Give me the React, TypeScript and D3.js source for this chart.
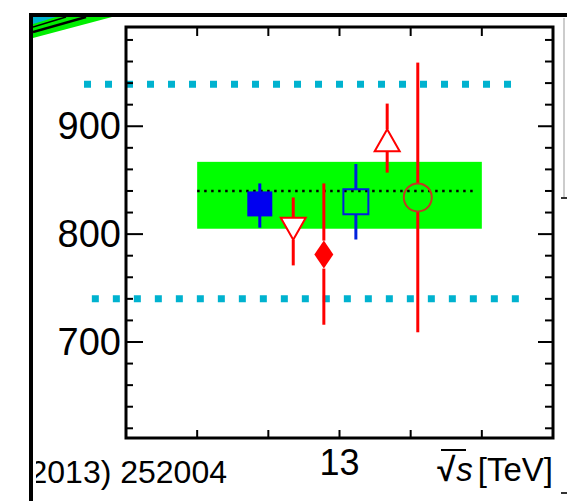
import React from 'react'
import * as d3 from 'd3'

// measurements, sqrt(s) positions are offset so the points do not overlap
const energies = [12.888, 12.935, 12.978, 13.023, 13.067, 13.110]
const values = [828, 805, 781, 830, 887, 834]
const errLow = [806, 771, 716, 795, 857, 709]
const errHigh = [847, 834, 847, 865, 921, 959]
const markers = ['fsquare', 'otridown', 'fdiamond', 'osquare', 'otriup', 'ocircle']
const colors = ['#0000f0', '#ff0000', '#ff0000', '#0022dd', '#ff0000', '#c03a22']
const barColors = ['#0000f0', '#ff0000', '#ff0000', '#0022dd', '#ff0000', '#ff0000']

// average and its uncertainty band
const average = [840]
const bandRange = [805, 867]
const bandX = [12.8, 13.2]

// dashed reference lines of the outer plot
const refValues = [939, 740]
const refFrom = [12.641, 12.652]
const refTo = [13.249, 13.263]

const yMajor = [700, 800, 900]
const xTicks = [12.8, 12.9, 13.0, 13.1, 13.2]
const xLabels = ['', '', '13', '', '']

const W = 567, H = 501
const font = '"Liberation Sans", Arial, Helvetica, sans-serif'

export default function App() {
  const x = d3.scaleLinear().domain([12.7, 13.3]).range([126, 553])
  const y = d3.scaleLinear().domain([611, 992]).range([438, 27])
  const yMinor = d3.range(620, 992, 20)

  // half-sizes of markers, used to break the error bars at the marker edge
  const markerHalf: Record<string, [number, number]> = {
    fsquare: [0, 0], otridown: [11, 11], fdiamond: [14, 14],
    osquare: [12.5, 12.5], otriup: [11, 11], ocircle: [14, 14]
  }

  function marker(kind: string, cx: number, cy: number, c: string) {
    if (kind === 'fsquare')
      return <rect x={cx - 12.5} y={cy - 12.5} width={25} height={25} fill={c} />
    if (kind === 'osquare')
      return <rect x={cx - 12.5} y={cy - 12.5} width={25} height={25} fill="none" stroke={c} strokeWidth={2} />
    if (kind === 'fdiamond')
      return <path d={`M${cx},${cy - 14}L${cx + 9.5},${cy}L${cx},${cy + 14}L${cx - 9.5},${cy}Z`} fill={c} />
    if (kind === 'otridown')
      return <path d={`M${cx - 12.5},${cy - 11}L${cx + 12.5},${cy - 11}L${cx},${cy + 11}Z`} fill="#fff" stroke={c} strokeWidth={2} />
    if (kind === 'otriup')
      return <path d={`M${cx - 12.5},${cy + 11}L${cx + 12.5},${cy + 11}L${cx},${cy - 11}Z`} fill="#fff" stroke={c} strokeWidth={2} />
    return <circle cx={cx} cy={cy} r={14} fill="none" stroke={c} strokeWidth={2} />
  }

  return (
    <svg width={W} height={H} style={{ position: 'absolute', left: 0, top: 0, background: '#fff' }}
      fontFamily={font}>
      <defs>
        <clipPath id="outer"><rect x={33} y={17} width={W} height={H} /></clipPath>
        <clipPath id="textclip"><rect x={36} y={17} width={W} height={H} /></clipPath>
      </defs>

      {/* corner of the outer plot's contour */}
      <g clipPath="url(#outer)">
        <path d="M33,17L112,17L33,38Z" fill="#00ee00" />
        <path d="M33,32L86,17" stroke="#000" strokeWidth={2.5} />
        <path d="M33,27L66,17" stroke="#000" strokeWidth={1.5} />
        <path d="M33,17L56,17L33,24Z" fill="#00b2cf" />
      </g>

      {/* average band */}
      <rect x={x(bandX[0])} y={y(bandRange[1])} width={x(bandX[1]) - x(bandX[0])}
        height={y(bandRange[0]) - y(bandRange[1])} fill="#00ff00" />
      <line x1={x(bandX[0])} x2={x(bandX[1]) - 5} y1={y(average[0])} y2={y(average[0])}
        stroke="#000" strokeWidth={2.5} strokeDasharray="2.5 4.5" />

      {/* reference lines */}
      {refValues.map((v, i) => (
        <line key={i} x1={x(refFrom[i])} x2={x(refTo[i])} y1={y(v)} y2={y(v)}
          stroke="#00b2cf" strokeWidth={7} strokeDasharray="7 14" />
      ))}

      {/* error bars and markers */}
      {energies.map((e, i) => {
        const cx = x(e), cy = y(values[i])
        const [ht, hb] = markerHalf[markers[i]]
        return (
          <g key={i}>
            <line x1={cx} x2={cx} y1={y(errHigh[i])} y2={cy - ht} stroke={barColors[i]} strokeWidth={3} />
            <line x1={cx} x2={cx} y1={cy + hb} y2={y(errLow[i])} stroke={barColors[i]} strokeWidth={3} />
            {marker(markers[i], cx, cy, colors[i])}
          </g>
        )
      })}

      {/* frame of the inner plot */}
      <rect x={126} y={27} width={427} height={411} fill="none" stroke="#000" strokeWidth={3} />
      {yMinor.map(v => {
        const major = yMajor.includes(v)
        return (
          <g key={v}>
            <line x1={126} x2={126 + (major ? 17 : 7)} y1={y(v)} y2={y(v)} stroke="#000" strokeWidth={2} />
            <line x1={553} x2={553 - (major ? 15 : 8)} y1={y(v)} y2={y(v)} stroke="#000" strokeWidth={2} />
          </g>
        )
      })}
      {yMajor.map(v => (
        <text key={v} x={121} y={y(v) + 13} textAnchor="end" fontSize={38}>{v}</text>
      ))}
      {xTicks.map((t, i) => (
        <g key={t}>
          <line x1={x(t)} x2={x(t)} y1={438} y2={430} stroke="#000" strokeWidth={2} />
          <line x1={x(t)} x2={x(t)} y1={27} y2={36} stroke="#000" strokeWidth={2} />
          {xLabels[i] && <text x={x(t)} y={475} textAnchor="middle" fontSize={36}>{xLabels[i]}</text>}
        </g>
      ))}

      {/* axis title */}
      <text x={553} y={481} textAnchor="end" fontSize={33}>
        <tspan fontWeight="bold">√</tspan><tspan fontStyle="italic" dx={1}>s</tspan><tspan dx={5}>[TeV]</tspan>
      </text>
      <line x1={441} x2={466} y1={450} y2={450} stroke="#000" strokeWidth={2} />

      {/* leftover of the outer plot */}
      <g clipPath="url(#textclip)">
        <text x={227} y={483} textAnchor="end" fontSize={32}>2013) 252004</text>
      </g>
      <line x1={31} x2={31} y1={15} y2={H} stroke="#000" strokeWidth={4} />
      <line x1={29} x2={W} y1={15} y2={15} stroke="#000" strokeWidth={4} />
      <line x1={564} x2={564} y1={18} y2={197} stroke="#ccc" strokeWidth={2} />
      <line x1={561} x2={567} y1={198} y2={198} stroke="#333" strokeWidth={2} />
      <line x1={561} x2={567} y1={493} y2={493} stroke="#333" strokeWidth={2} />
    </svg>
  )
}
